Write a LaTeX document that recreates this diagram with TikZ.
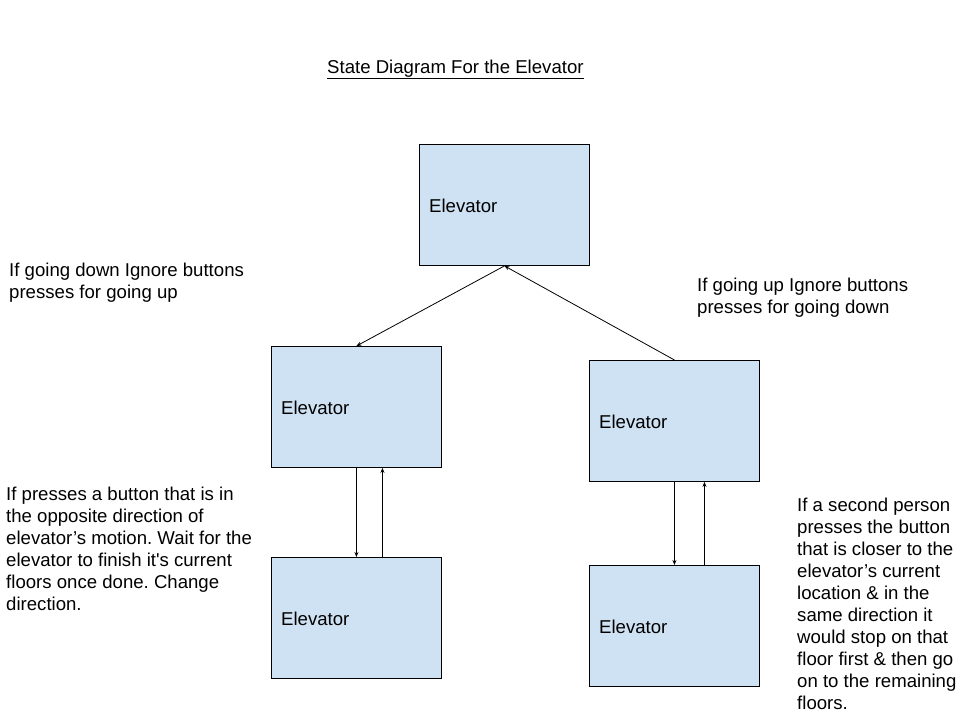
\documentclass[tikz,border=0pt]{standalone}
\usepackage{fontspec}
\setmainfont{Liberation Sans}
\usetikzlibrary{arrows.meta}
\definecolor{boxblue}{HTML}{CFE2F3}
\frenchspacing
\tikzset{
  statebox/.style={draw=black, fill=boxblue, line width=0.9pt, minimum width=170pt, minimum height=121pt, inner sep=0pt, anchor=north west},
  boxlabel/.style={anchor=west, inner sep=0pt, font=\fontsize{18.6}{22}\selectfont},
  note/.style={anchor=base west, inner sep=0pt, align=left, font=\fontsize{18.6}{22}\selectfont},
  link/.style={line width=0.8pt, -{Stealth[length=5pt,width=4pt]}}
}
\begin{document}
\begin{tikzpicture}[x=1pt,y=-1pt]
\useasboundingbox[fill=white] (0,0) rectangle (960,720);
\node[statebox] (top) at (419,144) {};
\node[statebox] (lm) at (271,346) {};
\node[statebox] (rm) at (589,360) {};
\node[statebox] (lb) at (271,557) {};
\node[statebox] (rb) at (589,565) {};
\node[boxlabel] (ttop) at ([xshift=10pt,yshift=-1pt]top.west) {Elevator};
\node[boxlabel] (tlm) at ([xshift=10pt,yshift=-1pt]lm.west) {Elevator};
\node[boxlabel] (trm) at ([xshift=10pt,yshift=-1pt]rm.west) {Elevator};
\node[boxlabel] (tlb) at ([xshift=10pt,yshift=-1pt]lb.west) {Elevator};
\node[boxlabel] (trb) at ([xshift=10pt,yshift=-1pt]rb.west) {Elevator};
\node[note] (title) at (327,73) {\underline{State Diagram For the Elevator}};
\node[note] (n1) at (9,298) {If going down Ignore buttons\\presses for going up};
\node[note] (n2) at (697,313) {If going up Ignore buttons\\presses for going down};
\node[note] (n3) at (6,610) {If presses a button that is in\\the opposite direction of\\elevator’s motion. Wait for the\\elevator to finish it\textquotesingle s current\\floors once done. Change\\direction.};
\node[note] (n4) at (797,709) {If a second person\\presses the button\\that is closer to the\\elevator’s current\\location \& in the\\same direction it\\would stop on that\\floor first \& then go\\on to the remaining\\floors.};
\draw[link] (top.south) -- (lm.north);
\draw[link] (rm.north) -- (top.south);
\draw[link] (lm.south) -- (lb.north);
\draw[link] ([xshift=26pt]lb.north) -- ([xshift=26pt]lm.south);
\draw[link] (rm.south) -- (rb.north);
\draw[link] ([xshift=30pt]rb.north) -- ([xshift=30pt]rm.south);
\end{tikzpicture}
\end{document}
